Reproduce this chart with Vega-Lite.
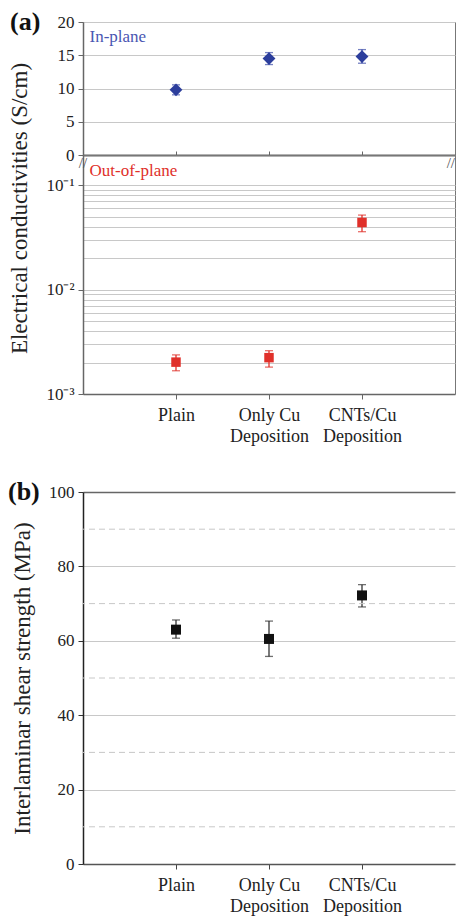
{
  "$schema": "https://vega.github.io/schema/vega-lite/v6.json",
  "background": "white",
  "padding": {"left": 7, "top": 8, "right": 0, "bottom": 5},
  "config": {
    "font": "Liberation Serif",
    "axis": {"labelFont": "Liberation Serif", "titleFont": "Liberation Serif", "titleFontWeight": "normal", "labelColor": "#222", "titleColor": "#222", "labelFontSize": 17, "titleFontSize": 23, "labelOverlap": false},
    "title": {"font": "Liberation Serif"}
  },
  "datasets": {
    "inplane": [
      {"sample": "Plain", "pos": 1, "value": 9.8, "lo": 9.05, "hi": 10.55},
      {"sample": "Only Cu Deposition", "pos": 2, "value": 14.5, "lo": 13.6, "hi": 15.4},
      {"sample": "CNTs/Cu Deposition", "pos": 3, "value": 14.8, "lo": 13.8, "hi": 15.85}
    ],
    "outplane": [
      {"sample": "Plain", "pos": 1, "value": 0.00202, "lo": 0.00167, "hi": 0.00237},
      {"sample": "Only Cu Deposition", "pos": 2, "value": 0.00223, "lo": 0.00181, "hi": 0.0026},
      {"sample": "CNTs/Cu Deposition", "pos": 3, "value": 0.044, "lo": 0.0359, "hi": 0.0518}
    ],
    "ilss": [
      {"sample": "Plain", "pos": 1, "value": 63, "lo": 60.7, "hi": 65.6},
      {"sample": "Only Cu Deposition", "pos": 2, "value": 60.5, "lo": 55.8, "hi": 65.3},
      {"sample": "CNTs/Cu Deposition", "pos": 3, "value": 72.2, "lo": 69.1, "hi": 75.1}
    ],
    "minorgrid": [{"value": 10}, {"value": 30}, {"value": 50}, {"value": 70}, {"value": 90}]
  },
  "bounds": "full",
  "spacing": 33,
  "vconcat": [
    {
      "bounds": "flush",
      "spacing": 0,
      "vconcat": [
        {
          "width": 372,
          "height": 133,
          "title": {"text": "(a)", "anchor": "start", "frame": "group", "dx": -73, "dy": 35, "fontSize": 26, "fontWeight": "bold", "color": "#111", "baseline": "middle", "offset": 0},
          "view": {"stroke": "#777", "strokeWidth": 1},
          "encoding": {
            "x": {"field": "pos", "type": "quantitative", "scale": {"domain": [0, 4], "nice": false},
              "axis": {"title": null, "values": [1, 2, 3], "labels": false, "tickSize": -4, "tickColor": "#666", "domainColor": "#666", "domainWidth": 2, "grid": false}}
          },
          "layer": [
            {
              "data": {"name": "inplane"},
              "mark": {"type": "rule", "color": "#3a4ca8", "strokeWidth": 1.3},
              "encoding": {
                "y": {"field": "lo", "type": "quantitative", "scale": {"domain": [0, 20], "nice": false},
                  "axis": {"title": null, "values": [0, 5, 10, 15, 20], "tickCount": 5, "grid": true, "gridColor": "#c8c8c8", "gridWidth": 1, "domainColor": "#666", "domainWidth": 1.5, "tickColor": "#666", "tickSize": 5, "labelPadding": 4}},
                "y2": {"field": "hi"}
              }
            },
            {
              "data": {"name": "inplane"},
              "mark": {"type": "tick", "orient": "horizontal", "color": "#3a4ca8", "size": 8, "thickness": 1.3},
              "encoding": {"y": {"field": "lo", "type": "quantitative"}}
            },
            {
              "data": {"name": "inplane"},
              "mark": {"type": "tick", "orient": "horizontal", "color": "#3a4ca8", "size": 8, "thickness": 1.3},
              "encoding": {"y": {"field": "hi", "type": "quantitative"}}
            },
            {
              "data": {"name": "inplane"},
              "mark": {"type": "point", "shape": "diamond", "filled": true, "size": 165, "color": "#2c3e9c", "opacity": 1},
              "encoding": {"y": {"field": "value", "type": "quantitative"}}
            },
            {
              "data": {"values": [{"label": "In-plane", "pos": 0.07, "value": 17.7}]},
              "mark": {"type": "text", "align": "left", "baseline": "middle", "fontSize": 17, "color": "#4a56b2"},
              "encoding": {"y": {"field": "value", "type": "quantitative"}, "text": {"field": "label"}}
            }
          ]
        },
        {
          "width": 372,
          "height": 239,
          "view": {"stroke": "#777", "strokeWidth": 1},
          "encoding": {
            "x": {"field": "pos", "type": "quantitative", "scale": {"domain": [0, 4], "nice": false},
              "axis": {"title": null, "values": [1, 2, 3], "labelExpr": "datum.value == 1 ? 'Plain' : datum.value == 2 ? ['Only Cu', 'Deposition'] : ['CNTs/Cu', 'Deposition']", "labelFontSize": 18, "labelLineHeight": 21, "labelPadding": 7, "tickSize": 5, "tickColor": "#666", "domainColor": "#666", "domainWidth": 1.5, "grid": false, "labelBaseline": "top"}}
          },
          "layer": [
            {
              "data": {"name": "outplane"},
              "mark": {"type": "rule", "color": "#e0302a", "strokeWidth": 1.3},
              "encoding": {
                "y": {"field": "lo", "type": "quantitative", "scale": {"type": "log", "domain": [0.001, 0.195], "nice": false},
                  "axis": {"title": "Electrical conductivities (S/cm)", "titleX": -52, "titleY": 53,
                    "values": [0.001, 0.002, 0.003, 0.004, 0.005, 0.006, 0.007, 0.008, 0.009, 0.01, 0.02, 0.03, 0.04, 0.05, 0.06, 0.07, 0.08, 0.09, 0.1],
                    "labelExpr": "datum.value == 0.1 ? '10⁻¹' : datum.value == 0.01 ? '10⁻²' : datum.value == 0.001 ? '10⁻³' : ''",
                    "grid": true, "gridColor": "#c8c8c8", "gridWidth": 1, "domainColor": "#666", "domainWidth": 1.5,
                    "tickColor": {"condition": {"test": "datum.value == 0.1 || datum.value == 0.01 || datum.value == 0.001", "value": "#666"}, "value": "transparent"},
                    "tickSize": 5, "labelPadding": 4}},
                "y2": {"field": "hi"}
              }
            },
            {
              "data": {"name": "outplane"},
              "mark": {"type": "tick", "orient": "horizontal", "color": "#e0302a", "size": 8, "thickness": 1.3},
              "encoding": {"y": {"field": "lo", "type": "quantitative"}}
            },
            {
              "data": {"name": "outplane"},
              "mark": {"type": "tick", "orient": "horizontal", "color": "#e0302a", "size": 8, "thickness": 1.3},
              "encoding": {"y": {"field": "hi", "type": "quantitative"}}
            },
            {
              "data": {"name": "outplane"},
              "mark": {"type": "square", "filled": true, "size": 90, "color": "#e0302a", "opacity": 1},
              "encoding": {"y": {"field": "value", "type": "quantitative"}}
            },
            {
              "data": {"values": [{"label": "Out-of-plane", "pos": 0.07, "value": 0.137}]},
              "mark": {"type": "text", "align": "left", "baseline": "middle", "fontSize": 17, "color": "#e0302a"},
              "encoding": {"y": {"field": "value", "type": "quantitative"}, "text": {"field": "label"}}
            },
            {
              "data": {"values": [{"label": "//", "pos": 0, "value": 0.165}]},
              "mark": {"type": "text", "align": "center", "baseline": "middle", "fontSize": 15, "color": "#555", "clip": false},
              "encoding": {"y": {"field": "value", "type": "quantitative"}, "text": {"field": "label"}}
            },
            {
              "data": {"values": [{"label": "//", "pos": 4, "value": 0.165}]},
              "mark": {"type": "text", "align": "right", "baseline": "middle", "fontSize": 15, "color": "#555", "clip": false},
              "encoding": {"y": {"field": "value", "type": "quantitative"}, "text": {"field": "label"}}
            }
          ]
        }
      ]
    },
    {
      "width": 372,
      "height": 372,
      "title": {"text": "(b)", "anchor": "start", "frame": "group", "dx": -75, "dy": 35, "fontSize": 26, "fontWeight": "bold", "color": "#111", "baseline": "middle", "offset": 0},
      "view": {"stroke": null},
      "encoding": {
        "x": {"field": "pos", "type": "quantitative", "scale": {"domain": [0, 4], "nice": false},
          "axis": {"title": null, "values": [1, 2, 3], "labelExpr": "datum.value == 1 ? 'Plain' : datum.value == 2 ? ['Only Cu', 'Deposition'] : ['CNTs/Cu', 'Deposition']", "labelFontSize": 18, "labelLineHeight": 21, "labelPadding": 7, "tickSize": 5, "tickColor": "#444", "domainColor": "#555", "domainWidth": 1.5, "grid": false, "labelBaseline": "top"}}
      },
      "layer": [
        {
          "data": {"name": "ilss"},
          "mark": {"type": "rule", "color": "#333", "strokeWidth": 1.3},
          "encoding": {
            "y": {"field": "lo", "type": "quantitative", "scale": {"domain": [0, 100], "nice": false},
              "axis": {"title": "Interlaminar shear strength (MPa)", "titleX": -49,
                "values": [0, 20, 40, 60, 80, 100], "tickCount": 6,
                "grid": true,
                "gridColor": {"condition": {"test": "datum.value == 100", "value": "#666"}, "value": "#c8c8c8"},
                "gridWidth": {"condition": {"test": "datum.value == 100", "value": 1.5}, "value": 1},
                "domainColor": "#222", "domainWidth": 1.5,
                "tickColor": "#333",
                "tickSize": 5, "labelPadding": 4}},
            "y2": {"field": "hi"}
          }
        },
        {
          "data": {"name": "minorgrid"},
          "mark": {"type": "rule", "color": "#c8c8c8", "strokeWidth": 1, "strokeDash": [6, 4]},
          "encoding": {"x": null, "y": {"field": "value", "type": "quantitative"}}
        },
        {
          "data": {"name": "ilss"},
          "mark": {"type": "tick", "orient": "horizontal", "color": "#333", "size": 8, "thickness": 1.3},
          "encoding": {"y": {"field": "lo", "type": "quantitative"}}
        },
        {
          "data": {"name": "ilss"},
          "mark": {"type": "tick", "orient": "horizontal", "color": "#333", "size": 8, "thickness": 1.3},
          "encoding": {"y": {"field": "hi", "type": "quantitative"}}
        },
        {
          "data": {"name": "ilss"},
          "mark": {"type": "square", "filled": true, "size": 100, "color": "#111", "opacity": 1},
          "encoding": {"y": {"field": "value", "type": "quantitative"}}
        }
      ]
    }
  ]
}
